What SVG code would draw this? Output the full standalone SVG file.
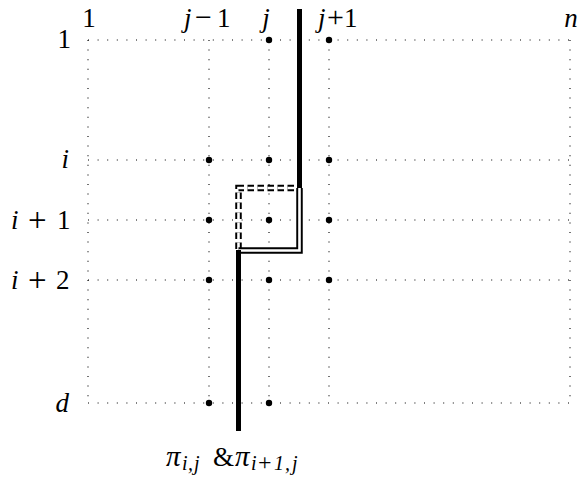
<svg xmlns="http://www.w3.org/2000/svg" width="580" height="480" viewBox="0 0 580 480">
<style>
.grid{stroke:#000;stroke-width:1.1;stroke-dasharray:1 8.6;fill:none}
.dot{fill:#000}
.lbl{font-family:"Liberation Serif","Times New Roman",serif;font-size:27px;fill:#000}
.it{font-style:italic}
.op{font-size:33px}
.opt{font-size:30px}
.pi{font-size:29px;font-style:italic}
.sub{font-size:20px;font-style:italic}
.subop{font-size:24px}
.thick{stroke:#000;stroke-width:5;fill:none}
.dblo{stroke:#000;stroke-width:6.5;fill:none;stroke-linejoin:miter}
.dbli{stroke:#fff;stroke-width:2.6;fill:none;stroke-linejoin:miter}
.dash{stroke-dasharray:6.5 3.5}
</style>
<rect width="580" height="480" fill="#fff"/>
<g id="grid">
<path class="grid" d="M88 40H570M88 160H570M88 220H570M88 280H570M88 403H570"/>
<path class="grid" d="M88 40V403M209 40V403M269 40V403M329 40V403M570 40V403"/>
</g>
<g id="col-labels" class="lbl">
<text x="89" y="27" text-anchor="middle">1</text>
<text y="27"><tspan class="it" x="184">j</tspan><tspan class="opt" x="195">−</tspan><tspan x="217">1</tspan></text>
<text x="266" y="27" text-anchor="middle" class="it">j</text>
<text y="27"><tspan class="it" x="318">j</tspan><tspan class="opt" x="327">+</tspan><tspan x="344">1</tspan></text>
<text x="571" y="27" text-anchor="middle" class="it">n</text>
</g>
<g id="row-labels" class="lbl">
<text x="71" y="48" text-anchor="end">1</text>
<text x="69" y="168" text-anchor="end" class="it">i</text>
<text y="229"><tspan class="it" x="11">i</tspan><tspan class="op" x="28" dy="2">+</tspan><tspan x="57" dy="-2">1</tspan></text>
<text y="289"><tspan class="it" x="11">i</tspan><tspan class="op" x="28" dy="2">+</tspan><tspan x="56" dy="-2">2</tspan></text>
<text x="69" y="412" text-anchor="end" class="it">d</text>
</g>
<g id="points">
<circle class="dot" cx="269" cy="40" r="3.2"/>
<circle class="dot" cx="329" cy="40" r="3.2"/>
<circle class="dot" cx="209" cy="160" r="3.2"/>
<circle class="dot" cx="269" cy="160" r="3.2"/>
<circle class="dot" cx="329" cy="160" r="3.2"/>
<circle class="dot" cx="209" cy="220" r="3.2"/>
<circle class="dot" cx="269" cy="220" r="3.2"/>
<circle class="dot" cx="329" cy="220" r="3.2"/>
<circle class="dot" cx="209" cy="280" r="3.2"/>
<circle class="dot" cx="269" cy="280" r="3.2"/>
<circle class="dot" cx="329" cy="280" r="3.2"/>
<circle class="dot" cx="209" cy="403" r="3.2"/>
<circle class="dot" cx="269" cy="403" r="3.2"/>
</g>
<g id="connectors">
<path class="dblo dash" d="M238.5 249V188H299.5"/>
<path class="dbli dash" d="M238.5 249V188H299.5"/>
<path class="dblo" d="M299.5 188V250.5H238.5"/>
<path class="dbli" d="M299.5 188V250.5H238.5"/>
<path class="thick" d="M299.5 9V188"/>
<path class="thick" d="M238.5 250V431"/>
</g>
<g id="path-label" class="lbl">
<text y="466"><tspan class="pi" x="166">π</tspan><tspan class="sub" x="182" dy="4">i</tspan><tspan class="sub" x="188">,</tspan><tspan class="sub" x="194">j</tspan><tspan x="213" dy="-4" font-size="27">&amp;</tspan><tspan class="pi" x="235">π</tspan><tspan class="sub" x="251" dy="4">i</tspan><tspan class="subop" x="258">+</tspan><tspan class="sub" x="274">1</tspan><tspan class="sub" x="285">,</tspan><tspan class="sub" x="292">j</tspan></text>
</g>
</svg>
